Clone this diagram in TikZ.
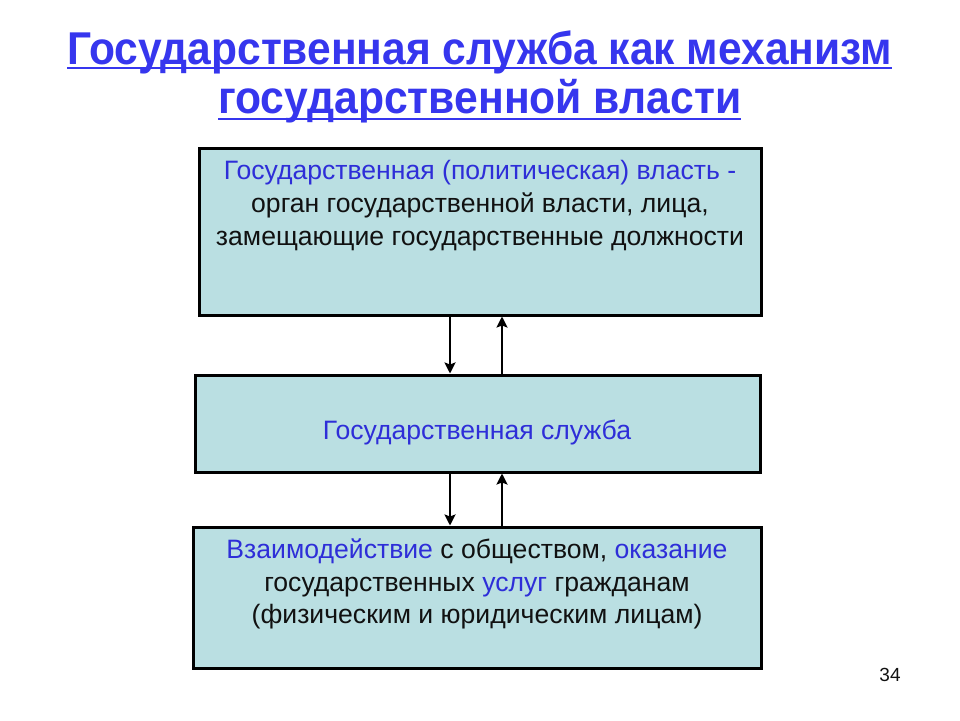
\documentclass[tikz,border=0pt]{standalone}
\usepackage{fontspec}
\setmainfont{Liberation Sans}
\usetikzlibrary{arrows.meta}
\definecolor{titleblue}{HTML}{3636EE}
\definecolor{textblue}{HTML}{2E2ED8}
\definecolor{boxfill}{HTML}{BADFE2}
\definecolor{textblack}{HTML}{111111}
\tikzset{
  box/.style={draw=black, line width=3pt, fill=boxfill, inner sep=0pt},
  btext/.style={anchor=base, inner sep=0pt, font=\fontsize{26.6}{30}\selectfont, text=textblack},
  ttext/.style={anchor=base west, inner sep=0pt, text=titleblue, font=\bfseries\fontsize{46}{52}\selectfont},
  uline/.style={draw=titleblue, line width=2.5pt},
  arr/.style={line width=2.5pt, -{Stealth[length=11pt,width=11pt,inset=2pt]}}
}
\begin{document}
\begin{tikzpicture}[x=1pt,y=-1pt]
\useasboundingbox (0,0) rectangle (960,720);
\fill[white] (0,0) rectangle (960,720);
% title
\node[ttext] (t1) at (67,64) {\resizebox{825pt}{\height}{Государственная служба как механизм}};
\node[ttext] (t2) at (218,113) {\resizebox{523pt}{\height}{государственной власти}};
\draw[uline] (t1.base west) ++(0,4) coordinate (u1a) -- ++(825,0) coordinate (u1b);
\draw[uline] (t2.base west) ++(0,6) coordinate (u2a) -- ++(523,0) coordinate (u2b);
% boxes
\node[box, minimum width=562pt, minimum height=167pt] (b1) at (480,231.5) {};
\node[box, minimum width=565pt, minimum height=97pt] (b2) at (477.5,423.5) {};
\node[box, minimum width=568pt, minimum height=141pt] (b3) at (477,597.5) {};
% box 1 text
\node[btext, text=textblue] (l11) at (480,179) {Государственная (политическая) власть -};
\node[btext] (l12) at (480,212) {орган государственной власти, лица,};
\node[btext] (l13) at (480,245) {замещающие государственные должности};
% box 2 text
\node[btext, text=textblue] (l21) at (477,439) {Государственная служба};
% box 3 text
\node[btext] (l31) at (477,558) {\textcolor{textblue}{Взаимодействие} с обществом, \textcolor{textblue}{оказание}};
\node[btext] (l32) at (477,591) {государственных \textcolor{textblue}{услуг} гражданам};
\node[btext] (l33) at (477,623) {(физическим и юридическим лицам)};
% arrows
\coordinate (xa) at (450,0);
\coordinate (xb) at (502,0);
\draw[arr] (b1.south -| xa) -- (b2.north -| xa);
\draw[arr] (b2.north -| xb) -- (b1.south -| xb);
\draw[arr] (b2.south -| xa) -- (b3.north -| xa);
\draw[arr] (b3.north -| xb) -- (b2.south -| xb);
% page number
\node[anchor=base, inner sep=0pt, font=\fontsize{19}{22}\selectfont, text=textblack] (pn) at (890,681) {34};
\end{tikzpicture}
\end{document}
